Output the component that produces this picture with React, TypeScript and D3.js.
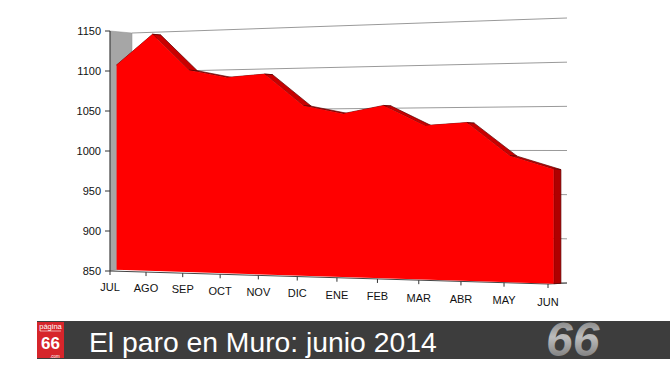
import React from "react";
import * as d3 from "d3";

const months = ["JUL", "AGO", "SEP", "OCT", "NOV", "DIC", "ENE", "FEB", "MAR", "ABR", "MAY", "JUN"];
const paro = [1108, 1145, 1099, 1089, 1092, 1053, 1043, 1052, 1028, 1031, 993, 978];
const yTicks = [850, 900, 950, 1000, 1050, 1100, 1150];
const title = "El paro en Muro: junio 2014";

const W = 670;
const H = 377;
const FONT = "'Liberation Sans', Arial, sans-serif";

// corners of the 3D box on screen: key = w(depth) v(value) s(category)
const C: Record<string, [number, number]> = {
  "000": [110, 271],
  "001": [548, 284],
  "010": [110, 31],
  "011": [548, 14],
  "100": [132, 267],
  "101": [567, 283],
  "110": [132, 33],
  "111": [567, 18],
};

const uScale = d3.scaleLinear().domain([0, months.length - 1]).range([0, 1]);
const vScale = d3.scaleLinear().domain([850, 1150]).range([0, 1]);
const Q = 0.896;
const persp = (u: number) => (u * Q) / (1 - u + u * Q);

function proj(i: number, value: number, w: number): [number, number] {
  const s = persp(uScale(i));
  const v = vScale(value);
  let x = 0;
  let y = 0;
  for (const key of Object.keys(C)) {
    const kw = +key[0], kv = +key[1], ks = +key[2];
    const wt = (kw ? w : 1 - w) * (kv ? v : 1 - v) * (ks ? s : 1 - s);
    x += wt * C[key][0];
    y += wt * C[key][1];
  }
  return [x, y];
}

const WF = 0.3;
const WB = 0.68;

const line = d3.line<[number, number]>();
const poly = (pts: [number, number][]) => line(pts) + "Z";

export default function App() {
  const n = months.length;
  const front: [number, number][] = paro.map((d, i) => proj(i, d, WF));
  const back: [number, number][] = paro.map((d, i) => proj(i, d, WB));

  const frontFace = poly([proj(0, 850, WF), ...front, proj(n - 1, 850, WF)]);
  const ribbons = d3.range(n - 1).map((i) => poly([front[i], front[i + 1], back[i + 1], back[i]]));
  const sideFace = poly([front[n - 1], back[n - 1], proj(n - 1, 850, WB), proj(n - 1, 850, WF)]);

  const leftWall = poly([proj(0, 1150, 0), proj(0, 1150, 1), proj(0, 850, 1), proj(0, 850, 0)]);

  return (
    <svg
      width={W}
      height={H}
      style={{ position: "absolute", left: 0, top: 0, background: "#fff" }}
      fontFamily={FONT}
    >
      <defs>
        <linearGradient id="g66" x1="0" y1="0" x2="0" y2="1">
          <stop offset="0" stopColor="#6e6e6e" />
          <stop offset="0.45" stopColor="#bdbdbd" />
          <stop offset="1" stopColor="#666" />
        </linearGradient>
      </defs>

      {/* side wall */}
      <path d={leftWall} fill="#a6a6a6" stroke="#8f8f8f" strokeWidth={0.5} />

      {/* back wall gridlines */}
      {yTicks.map((t) => {
        const a = proj(0, t, 1);
        const b = proj(n - 1, t, 1);
        return <line key={t} x1={a[0]} y1={a[1]} x2={b[0]} y2={b[1]} stroke="#9a9a9a" strokeWidth={1} />;
      })}

      {/* floor edges */}
      <path
        d={line([proj(0, 850, 0), proj(n - 1, 850, 0), proj(n - 1, 850, 1)]) || ""}
        fill="none"
        stroke="#444"
        strokeWidth={1}
      />

      {/* series */}
      {ribbons.map((d, i) => (
        <path key={i} d={d} fill="#c80000" stroke="#5a0000" strokeWidth={0.7} strokeLinejoin="round" />
      ))}
      <path d={sideFace} fill="#b00000" stroke="#5a0000" strokeWidth={0.7} />
      <path d={frontFace} fill="#ff0000" />

      {/* value axis */}
      <line x1={110} y1={proj(0, 1150, 0)[1]} x2={110} y2={proj(0, 850, 0)[1]} stroke="#333" strokeWidth={1} />
      {yTicks.map((t) => {
        const p = proj(0, t, 0);
        return (
          <g key={t}>
            <line x1={p[0] - 5} y1={p[1]} x2={p[0]} y2={p[1]} stroke="#333" strokeWidth={1} />
            <text x={p[0] - 9} y={p[1] + 4} textAnchor="end" fontSize={11} fill="#111">
              {t}
            </text>
          </g>
        );
      })}

      {/* category axis */}
      {months.map((m, i) => {
        const p = proj(i, 850, 0);
        const s = persp(uScale(i));
        return (
          <g key={m}>
            <line x1={p[0]} y1={p[1]} x2={p[0]} y2={p[1] + 4} stroke="#333" strokeWidth={1} />
            <text x={p[0]} y={p[1] + 20 + 2 * s} textAnchor="middle" fontSize={11} fill="#111">
              {m}
            </text>
          </g>
        );
      })}

      {/* banner */}
      <rect x={37} y={321} width={633} height={38} fill="#3d3d3d" />
      <rect x={37} y={322} width={27} height={36} fill="#d6252b" />
      <text x={50.5} y={329} textAnchor="middle" fontSize={7.5} fill="#fff">
        página
      </text>
      <line x1={40} y1={331} x2={61} y2={331} stroke="#fff" strokeWidth={0.6} />
      <text x={50.5} y={349} textAnchor="middle" fontSize={17} fontWeight="bold" fill="#fff">
        66
      </text>
      <text x={55} y={357.5} textAnchor="middle" fontSize={4.5} fill="#fff">
        .com
      </text>
      <text x={89} y={352} fontSize={28.3} fill="#fff">
        {title}
      </text>
      <text x={546} y={356} fontSize={48} fontStyle="italic" fontWeight="bold" fill="url(#g66)">
        66
      </text>
    </svg>
  );
}
